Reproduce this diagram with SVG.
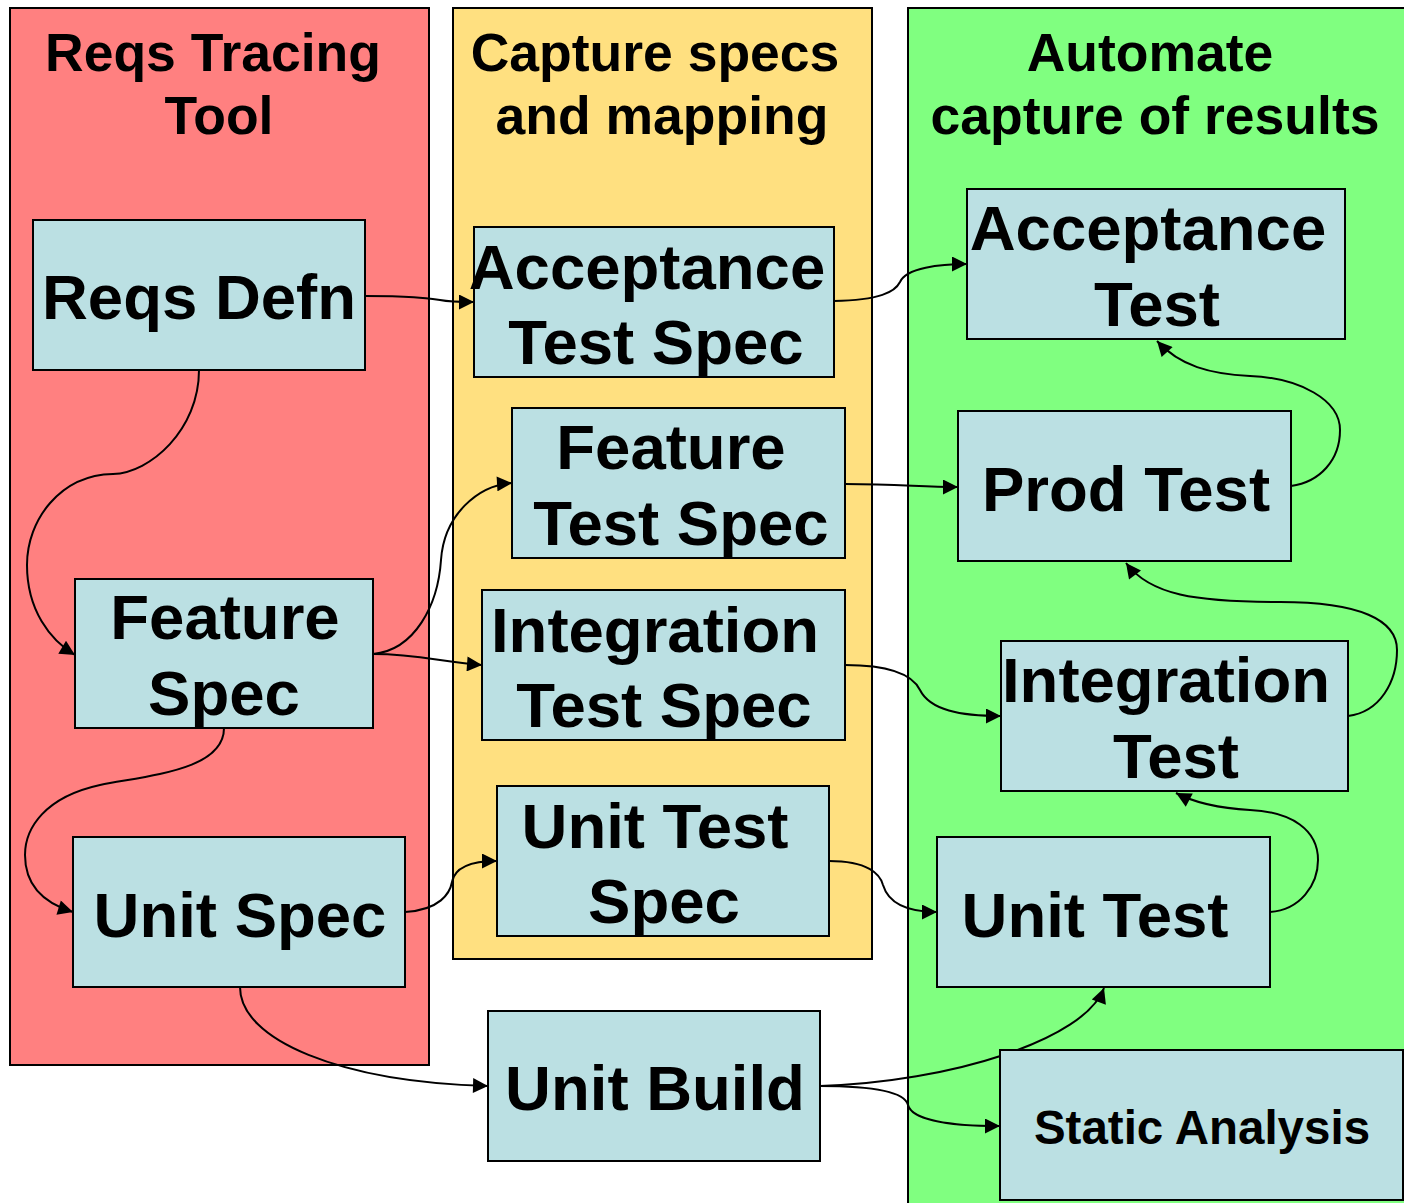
<svg xmlns="http://www.w3.org/2000/svg" width="1404" height="1203" viewBox="0 0 1404 1203">
  <style>
    .lane { stroke: #000; stroke-width: 2; }
    .box { fill: #BBE0E3; stroke: #000; stroke-width: 2; }
    .hdr { font-family: "Liberation Sans", Arial, sans-serif; font-weight: bold; font-size: 53.5px; fill: #000; text-anchor: middle; }
    .lbl { font-family: "Liberation Sans", Arial, sans-serif; font-weight: bold; font-size: 63.5px; fill: #000; text-anchor: middle; }
    .small { font-size: 47.5px; }
    .edge { fill: none; stroke: #000; stroke-width: 2; marker-end: url(#arrow); }
  </style>
  <defs>
    <marker id="arrow" viewBox="0 0 10 10" refX="10" refY="5" markerWidth="9" markerHeight="7.5" markerUnits="strokeWidth" orient="auto">
      <path d="M0,0 L10,5 L0,10 Z" fill="#000"/>
    </marker>
  </defs>

  <rect width="1404" height="1203" fill="#fff"/>

  <!-- swimlanes -->
  <g id="lanes">
    <rect class="lane" x="10" y="8" width="419" height="1057" fill="#FF8080"/>
    <rect class="lane" x="453" y="8" width="419" height="951" fill="#FFE080"/>
    <rect class="lane" x="908" y="8" width="500" height="1200" fill="#80FF80"/>
    <text class="hdr" x="213" y="71">Reqs Tracing</text>
    <text class="hdr" x="219" y="134">Tool</text>
    <text class="hdr" x="655" y="71">Capture specs</text>
    <text class="hdr" x="662" y="134">and mapping</text>
    <text class="hdr" x="1150" y="71">Automate</text>
    <text class="hdr" x="1155" y="134">capture of results</text>
  </g>

  <!-- connectors -->
  <g id="connectors">
    <path class="edge" d="M365,296 C410,296 425,298 440,300 C450,302 460,302 474,302"/>
    <path class="edge" d="M834,301 C880,300 895,292 900,282 C906,268 940,264 967,264"/>
    <path class="edge" d="M199,370 C199,430 150,473 113,474 C60,475 27,520 27,565 C27,610 50,640 75,655"/>
    <path class="edge" d="M373,654 C415,650 438,605 441,560 C444,515 478,485 512,483"/>
    <path class="edge" d="M373,654 C420,654 440,662 482,665"/>
    <path class="edge" d="M224,728 C224,770 150,775 100,785 C45,797 25,828 25,855 C25,890 50,905 73,912"/>
    <path class="edge" d="M405,912 C440,910 450,893 452,882 C455,866 475,861 497,861"/>
    <path class="edge" d="M240,987 C240,1040 340,1082 488,1086"/>
    <path class="edge" d="M845,484 C900,484 920,487 958,487"/>
    <path class="edge" d="M845,665 C900,665 915,680 920,690 C930,710 960,716 1001,716"/>
    <path class="edge" d="M829,861 C868,861 880,874 883,885 C889,905 910,912 937,912"/>
    <path class="edge" d="M820,1086 C950,1082 1085,1040 1104,988"/>
    <path class="edge" d="M820,1086 C880,1086 905,1093 908,1105 C912,1120 950,1126 1000,1126"/>
    <path class="edge" d="M1270,912 C1300,910 1318,885 1318,860 C1318,830 1292,812 1250,810 C1215,808 1193,802 1176,793"/>
    <path class="edge" d="M1348,716 C1380,712 1397,682 1397,650 C1397,620 1360,602 1280,602 C1195,602 1150,595 1126,563"/>
    <path class="edge" d="M1291,486 C1320,482 1340,460 1340,430 C1340,400 1300,378 1250,376 C1210,374 1180,366 1157,341"/>
  </g>

  <!-- nodes -->
  <g id="reqs-defn">
    <rect class="box" x="33" y="220" width="332" height="150"/>
    <text class="lbl" x="199" y="319">Reqs Defn</text>
  </g>
  <g id="feature-spec">
    <rect class="box" x="75" y="579" width="298" height="149"/>
    <text class="lbl" x="225" y="639">Feature</text>
    <text class="lbl" x="224" y="715">Spec</text>
  </g>
  <g id="unit-spec">
    <rect class="box" x="73" y="837" width="332" height="150"/>
    <text class="lbl" x="240" y="937">Unit Spec</text>
  </g>
  <g id="acceptance-test-spec">
    <rect class="box" x="474" y="227" width="360" height="150"/>
    <text class="lbl" x="647" y="289">Acceptance</text>
    <text class="lbl" x="656" y="364">Test Spec</text>
  </g>
  <g id="feature-test-spec">
    <rect class="box" x="512" y="408" width="333" height="150"/>
    <text class="lbl" x="671" y="469">Feature</text>
    <text class="lbl" x="681" y="545">Test Spec</text>
  </g>
  <g id="integration-test-spec">
    <rect class="box" x="482" y="590" width="363" height="150"/>
    <text class="lbl" x="655" y="652">Integration</text>
    <text class="lbl" x="664" y="727">Test Spec</text>
  </g>
  <g id="unit-test-spec">
    <rect class="box" x="497" y="786" width="332" height="150"/>
    <text class="lbl" x="655" y="848">Unit Test</text>
    <text class="lbl" x="664" y="923">Spec</text>
  </g>
  <g id="unit-build">
    <rect class="box" x="488" y="1011" width="332" height="150"/>
    <text class="lbl" x="655" y="1110">Unit Build</text>
  </g>
  <g id="acceptance-test">
    <rect class="box" x="967" y="189" width="378" height="150"/>
    <text class="lbl" x="1148" y="250">Acceptance</text>
    <text class="lbl" x="1157" y="326">Test</text>
  </g>
  <g id="prod-test">
    <rect class="box" x="958" y="411" width="333" height="150"/>
    <text class="lbl" x="1126" y="511">Prod Test</text>
  </g>
  <g id="integration-test">
    <rect class="box" x="1001" y="641" width="347" height="150"/>
    <text class="lbl" x="1166" y="702">Integration</text>
    <text class="lbl" x="1176" y="778">Test</text>
  </g>
  <g id="unit-test">
    <rect class="box" x="937" y="837" width="333" height="150"/>
    <text class="lbl" x="1095" y="937">Unit Test</text>
  </g>
  <g id="static-analysis">
    <rect class="box" x="1000" y="1050" width="403" height="150"/>
    <text class="lbl small" x="1202" y="1144">Static Analysis</text>
  </g>
</svg>
